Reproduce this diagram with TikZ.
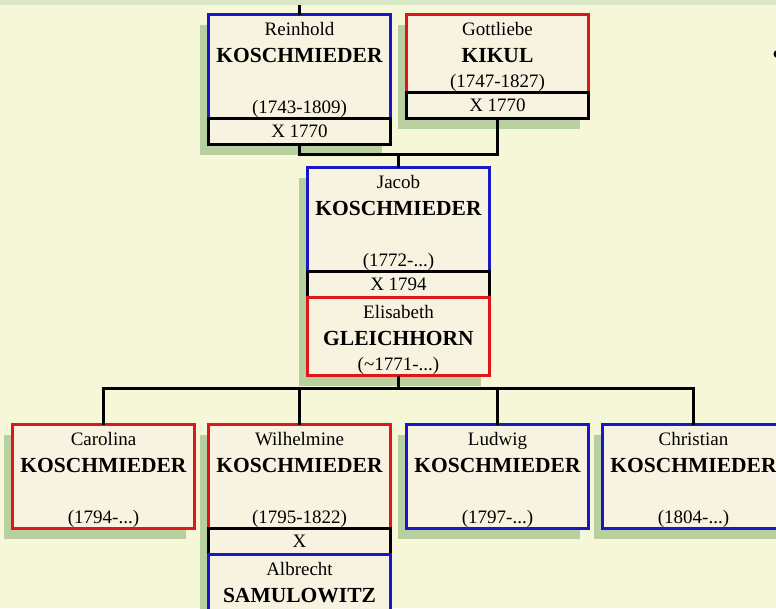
\documentclass[tikz,border=0pt]{standalone}
\usepackage{fontspec}
\setmainfont{Liberation Serif}
\usetikzlibrary{positioning}
\usetikzlibrary{shadows}
\definecolor{fond}{RGB}{246,246,216}
\definecolor{bande}{RGB}{216,232,198}
\definecolor{ombre}{RGB}{184,208,160}
\definecolor{papier}{RGB}{248,243,224}
\definecolor{homme}{RGB}{24,24,200}
\definecolor{femme}{RGB}{222,24,24}
\tikzset{
	gennode/.style = {rectangle, align=center, inner sep=0pt, outer sep=0pt,
		fill=papier, line width=3pt, minimum width=182pt,
		font=\fontsize{19}{25.5}\selectfont,
		drop shadow={shadow xshift=-9pt, shadow yshift=-10pt, fill=ombre, opacity=1}},
	gen_m/.style = {gennode, draw=homme, minimum height=104pt},% genealogie, homme
	gen_f/.style = {gennode, draw=femme, minimum height=104pt},% genealogie, femme
	gen_x/.style = {gennode, draw=black, minimum height=26pt},% genealogie, mariage
	court/.style = {minimum height=78pt},% fiche courte
	lien/.style = {draw=black, line width=3pt}
}
% prenom, nom, dates
\newcommand{\fiche}[3]{\rule{0pt}{20pt}#1\\[1.5pt]{\fontsize{21.5}{25.5}\selectfont\bfseries #2}\\[25.5pt]#3\rule[-4pt]{0pt}{4pt}}
\newcommand{\fichec}[3]{\rule{0pt}{20pt}#1\\[1.5pt]{\fontsize{21.5}{25.5}\selectfont\bfseries #2}\\#3\rule[-4pt]{0pt}{4pt}}

\begin{document}
\begin{tikzpicture}[x=1pt,y=-1pt]
	\useasboundingbox (0,0) rectangle (776,608);
	\clip (0,0) rectangle (776,608);
	\fill[fond] (0,0) rectangle (776,608);
	\fill[bande] (0,0) rectangle (776,5);
	\fill (777.5,54) circle (4pt);
	% parents
	\node[gen_m] (reinhold) at (299.5,66.5) {\fiche{Reinhold}{KOSCHMIEDER}{(1743-1809)}};
	\node[gen_x, below=0pt of reinhold] (x_reinhold) {X 1770};
	\node[gen_f, court] (gottliebe) at (497.5,53.5) {\fichec{Gottliebe}{KIKUL}{(1747-1827)}};
	\node[gen_x, below=0pt of gottliebe] (x_gottliebe) {X 1770};
	% couple
	\node[gen_m] (jacob) at (398.5,219.5) {\fiche{Jacob}{KOSCHMIEDER}{(1772-...)}};
	\node[gen_x, below=0pt of jacob] (x_jacob) {X 1794};
	\node[gen_f, court, below=0pt of x_jacob] (elisabeth) {\fichec{Elisabeth}{GLEICHHORN}{(\textasciitilde1771-...)}};
	% enfants
	\node[gen_f] (carolina) at (103.5,476.5) {\fiche{Carolina}{KOSCHMIEDER}{(1794-...)}};
	\node[gen_f] (wilhelmine) at (299.5,476.5) {\fiche{Wilhelmine}{KOSCHMIEDER}{(1795-1822)}};
	\node[gen_x, below=0pt of wilhelmine] (x_wilhelmine) {X};
	\node[gen_m, below=0pt of x_wilhelmine] (albrecht) {\fiche{Albrecht}{SAMULOWITZ}{}};
	\node[gen_m] (ludwig) at (497.5,476.5) {\fiche{Ludwig}{KOSCHMIEDER}{(1797-...)}};
	\node[gen_m] (christian) at (693.5,476.5) {\fiche{Christian}{KOSCHMIEDER}{(1804-...)}};
	% liens
	\coordinate (haut) at (299.5,5);
	\coordinate (fourche1) at (398.5,154);
	\coordinate (fourche2) at (398.5,388);
	\draw[lien] (haut) -- (reinhold.north);
	\draw[lien] (x_reinhold.south) |- (fourche1) -| (x_gottliebe.south);
	\draw[lien] (fourche1) -- (jacob.north);
	\draw[lien] (elisabeth.south) -- (fourche2);
	\draw[lien] (carolina.north) |- (fourche2) -| (christian.north);
	\foreach \enfant in {wilhelmine,ludwig}
		\draw[lien] (\enfant.north) -- (\enfant.north |- fourche2);
\end{tikzpicture}
\end{document}
